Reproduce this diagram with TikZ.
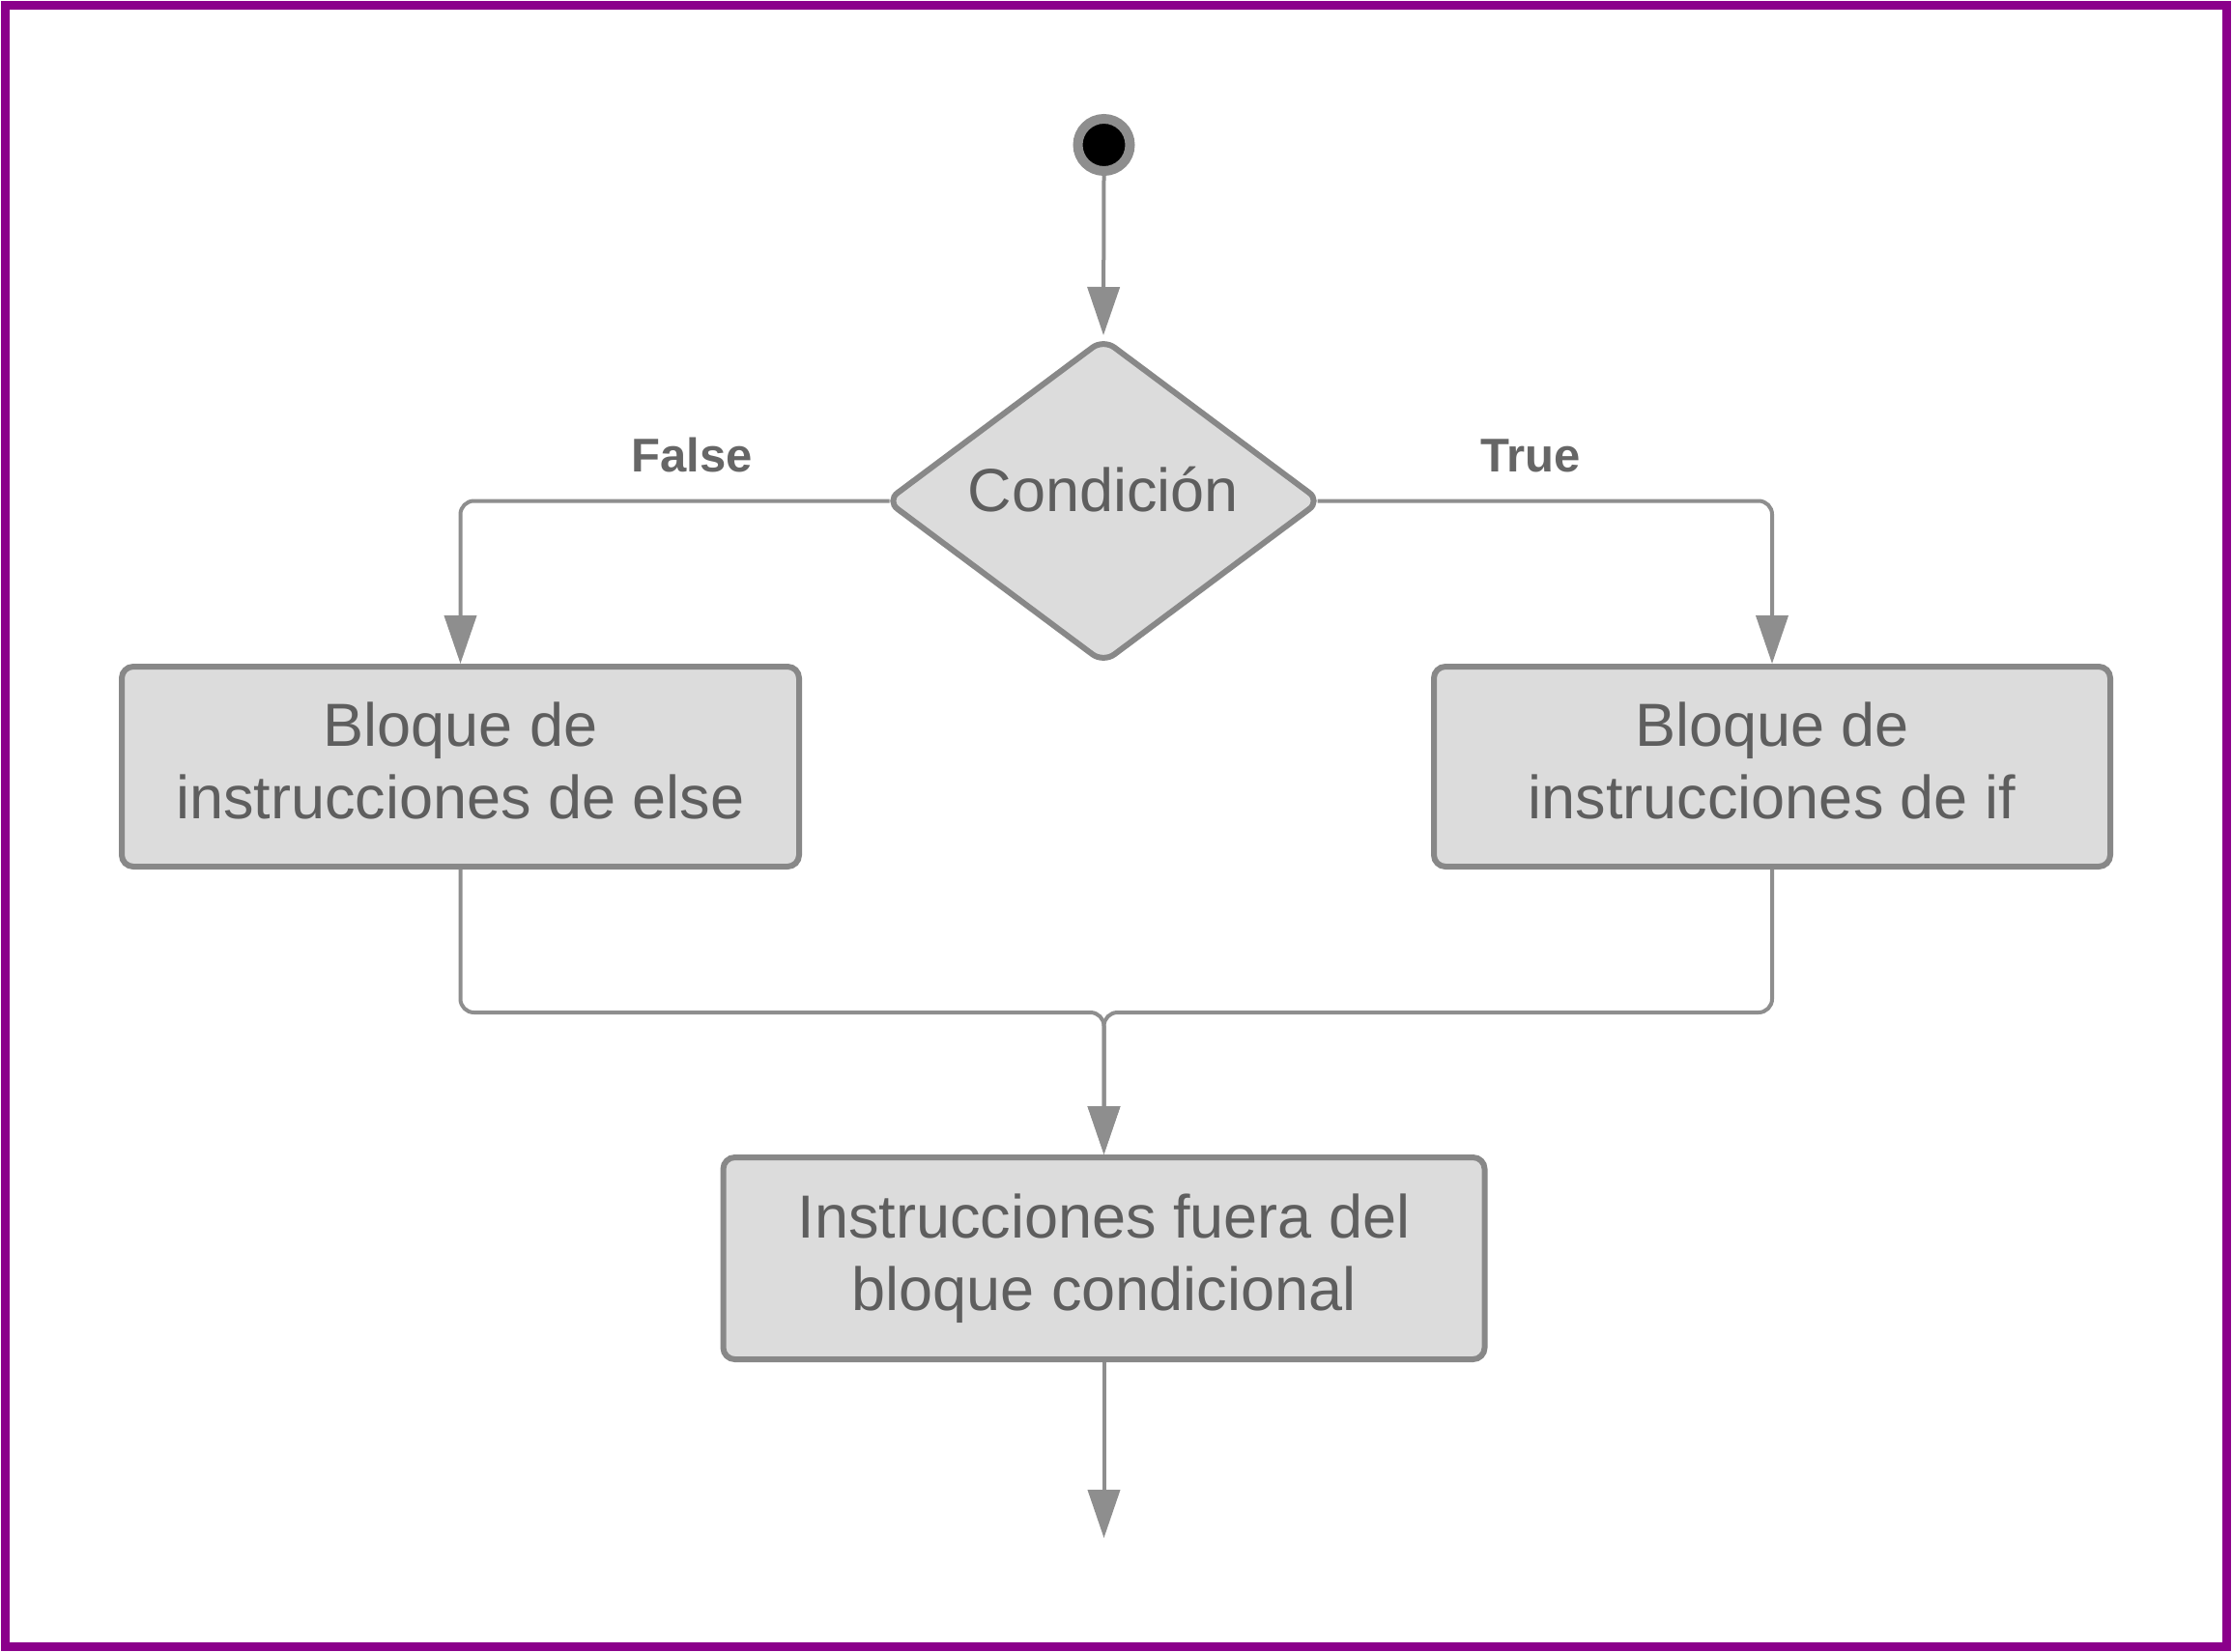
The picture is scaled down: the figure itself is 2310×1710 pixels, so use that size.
\documentclass[tikz,border=0pt]{standalone}
\usepackage{fontspec}
\setmainfont{Liberation Sans}
\usetikzlibrary{arrows.meta,shapes.geometric}
\definecolor{frame}{HTML}{8B008B}
\definecolor{boxfill}{HTML}{DCDCDC}
\definecolor{boxline}{HTML}{888888}
\definecolor{connline}{HTML}{8E8E8E}
\definecolor{txt}{HTML}{5E5E5E}
\definecolor{lbl}{HTML}{666666}
\tikzset{
  block/.style={rectangle, draw=boxline, fill=boxfill, line width=6pt, rounded corners=12pt,
    inner sep=0pt, align=center, text=txt, font=\fontsize{63}{75}\selectfont},
  decision/.style={diamond, draw=boxline, fill=boxfill, line width=6pt, rounded corners=14pt,
    inner sep=0pt, minimum width=451pt, minimum height=337pt},
  conn/.style={draw=connline, line width=4pt, rounded corners=14pt,
    -{Triangle[length=50pt,width=33pt]}},
  btxt/.style={text=txt, font=\fontsize{63}{75}\selectfont, inner sep=0pt},
  edgelbl/.style={text=lbl, font=\bfseries\fontsize{49}{59}\selectfont, inner sep=0pt},
  startdot/.style={circle, fill=black, draw=connline, line width=10pt, minimum size=54pt, inner sep=0pt}
}
\begin{document}
\begin{tikzpicture}[x=1pt,y=-1pt]
\useasboundingbox (0,0) rectangle (2310,1710);
\draw[frame, line width=9pt] (5.5,5.5) rectangle (2304,1704);

\node[startdot] (start) at (1142.5,150) {};
\node[decision] (cond) at (1142,518.5) {};
\node[btxt, anchor=base] (condtxt) at (1142,529) {Condición};

\node[block, minimum width=701pt, minimum height=207pt] (elseb) at (476.5,793.5)
  {Bloque de\\instrucciones de else\vphantom{q}};
\node[block, minimum width=700pt, minimum height=207pt] (ifb) at (1834,793.5)
  {Bloque de\\instrucciones de if\vphantom{q}};
\node[block, minimum width=788pt, minimum height=209pt] (outb) at (1142.5,1302.5)
  {Instrucciones fuera del\\bloque condicional};

\coordinate (join) at (1142.5,1048);
\coordinate (endpt) at (1142.5,1592);

\draw[conn] (start.south) -- (cond.north);
\draw[conn] ([xshift=7pt]cond.west) -| (elseb.north);
\draw[conn] ([xshift=-7pt]cond.east) -| (ifb.north);
\draw[conn] (elseb.south) |- (join) -- (outb.north);
\draw[conn] (ifb.south) |- (join) -- (outb.north);
\draw[conn] (outb.south) -- (endpt);

\node[edgelbl, anchor=base] (flbl) at (716,488) {False};
\node[edgelbl, anchor=base] (tlbl) at (1584,488) {True};
\end{tikzpicture}
\end{document}
